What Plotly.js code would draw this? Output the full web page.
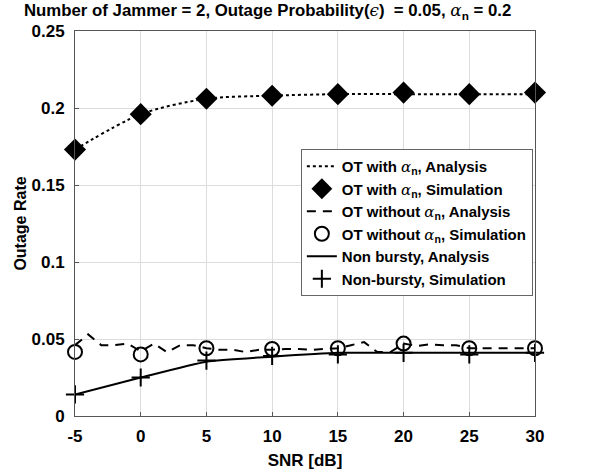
<!DOCTYPE html>
<html>
<head>
<meta charset="utf-8">
<script src="https://cdn.plot.ly/plotly-3.0.1.min.js"></script>
<style>html,body{margin:0;padding:0;background:#fff;}#chart{width:600px;height:473px;}</style>
</head>
<body>
<div id="chart"></div>
<script>
// SNR grid for simulation points and smooth analysis curves
const snr = [-5, 0, 5, 10, 15, 20, 25, 30];
// OT with alpha_n
const otAlphaAnalysis = [0.173, 0.196, 0.206, 0.208, 0.209, 0.209, 0.209, 0.209];
const otAlphaSim = [0.173, 0.196, 0.206, 0.208, 0.209, 0.210, 0.209, 0.210];
// OT without alpha_n (analysis curve read at 1 dB steps)
const snrFine = [-5,-4,-3,-2,-1,0,1,2,3,4,5,6,7,8,9,10,11,12,13,14,15,16,17,18,19,20,21,22,23,24,25,26,27,28,29,30];
const otNoAlphaAnalysis = [0.046,0.053,0.046,0.046,0.047,0.042,0.047,0.0415,0.046,0.046,0.044,0.043,0.043,0.0415,0.043,0.043,0.0435,0.0435,0.043,0.0435,0.044,0.046,0.048,0.0415,0.0415,0.047,0.0455,0.0465,0.046,0.046,0.044,0.044,0.044,0.044,0.044,0.044];
const otNoAlphaSim = [0.0416, 0.040, 0.044, 0.0435, 0.044, 0.047, 0.044, 0.044];
// Non-bursty
const nonBurstyAnalysis = [0.014, 0.025, 0.0353, 0.0385, 0.041, 0.041, 0.041, 0.041];
const nonBurstySim = [0.014, 0.025, 0.036, 0.039, 0.040, 0.041, 0.040, 0.041];
const xTicks = [-5, 0, 5, 10, 15, 20, 25, 30];
const yTicks = [0, 0.05, 0.1, 0.15, 0.2, 0.25];
const yTickText = ['0', '0.05', '0.1', '0.15', '0.2', '0.25'];

const greek = (s) => "<span style='font-family:\"DejaVu Serif\",serif;font-weight:normal;font-style:italic'>" + s + "</span>";
const alphaN = greek('α') + '<sub>n</sub>';

const traces = [
  {x: snr, y: otAlphaAnalysis, mode: 'lines', name: 'OT with ' + alphaN + ', Analysis',
   line: {color: '#000', width: 2, dash: 'dot', shape: 'spline', smoothing: 0.8}},
  {x: snr, y: otAlphaSim, mode: 'markers', name: 'OT with ' + alphaN + ', Simulation', cliponaxis: false,
   marker: {symbol: 'diamond', size: 17, color: '#000'}},
  {x: snrFine, y: otNoAlphaAnalysis, mode: 'lines', name: 'OT without ' + alphaN + ', Analysis',
   line: {color: '#000', width: 2, dash: '9px,7px'}},
  {x: snr, y: otNoAlphaSim, mode: 'markers', name: 'OT without ' + alphaN + ', Simulation', cliponaxis: false,
   marker: {symbol: 'circle-open', size: 14, color: '#000', line: {width: 2, color: '#000'}}},
  {x: snr, y: nonBurstyAnalysis, mode: 'lines', name: 'Non bursty, Analysis',
   line: {color: '#000', width: 2, shape: 'spline', smoothing: 0.5}},
  {x: snr, y: nonBurstySim, mode: 'markers', name: 'Non-bursty, Simulation', cliponaxis: false,
   marker: {symbol: 'cross-thin-open', size: 13, color: '#000', line: {width: 2, color: '#000'}}}
];

const layout = {
  width: 600, height: 473,
  margin: {l: 75, r: 65, t: 31, b: 57},
  paper_bgcolor: '#fff', plot_bgcolor: '#fff',
  font: {family: '"Liberation Sans", Arial, sans-serif', color: '#000', size: 16, weight: 'bold'},
  title: {text: 'Number of Jammer = 2, Outage Probability(' + greek('ϵ') + ')  = 0.05, ' + alphaN + ' = 0.2',
          xref: 'container', x: 0.04, xanchor: 'left', y: 0.99, yanchor: 'top',
          font: {size: 16.8, weight: 'bold', color: '#000'}},
  xaxis: {range: [-5, 30], tickvals: xTicks, ticktext: xTicks.map(String),
          showgrid: true, gridcolor: '#dcdcdc', gridwidth: 1, zeroline: false,
          showline: true, mirror: true, linecolor: '#555', linewidth: 1,
          ticks: 'inside', ticklen: 4, tickcolor: '#555', ticklabelstandoff: 5,
          tickfont: {size: 17, weight: 'bold'},
          title: {text: 'SNR [dB]', font: {size: 17, weight: 'bold'}, standoff: 8}},
  yaxis: {range: [0, 0.25], tickvals: yTicks, ticktext: yTickText,
          showgrid: true, gridcolor: '#dcdcdc', gridwidth: 1, zeroline: false,
          showline: true, mirror: true, linecolor: '#555', linewidth: 1,
          ticks: 'inside', ticklen: 4, tickcolor: '#555', ticklabelstandoff: 6,
          tickfont: {size: 17, weight: 'bold'},
          title: {text: 'Outage Rate', font: {size: 16, weight: 'bold'}, standoff: 0}},
  showlegend: true,
  legend: {x: 0.491, y: 0.6935, xanchor: 'left', yanchor: 'top',
           bgcolor: '#fff', bordercolor: '#666', borderwidth: 1,
           font: {size: 15, weight: 'bold', color: '#000'},
           itemwidth: 30, tracegroupgap: 0}
};

Plotly.newPlot('chart', traces, layout, {displayModeBar: false, staticPlot: true});
</script>
</body>
</html>
